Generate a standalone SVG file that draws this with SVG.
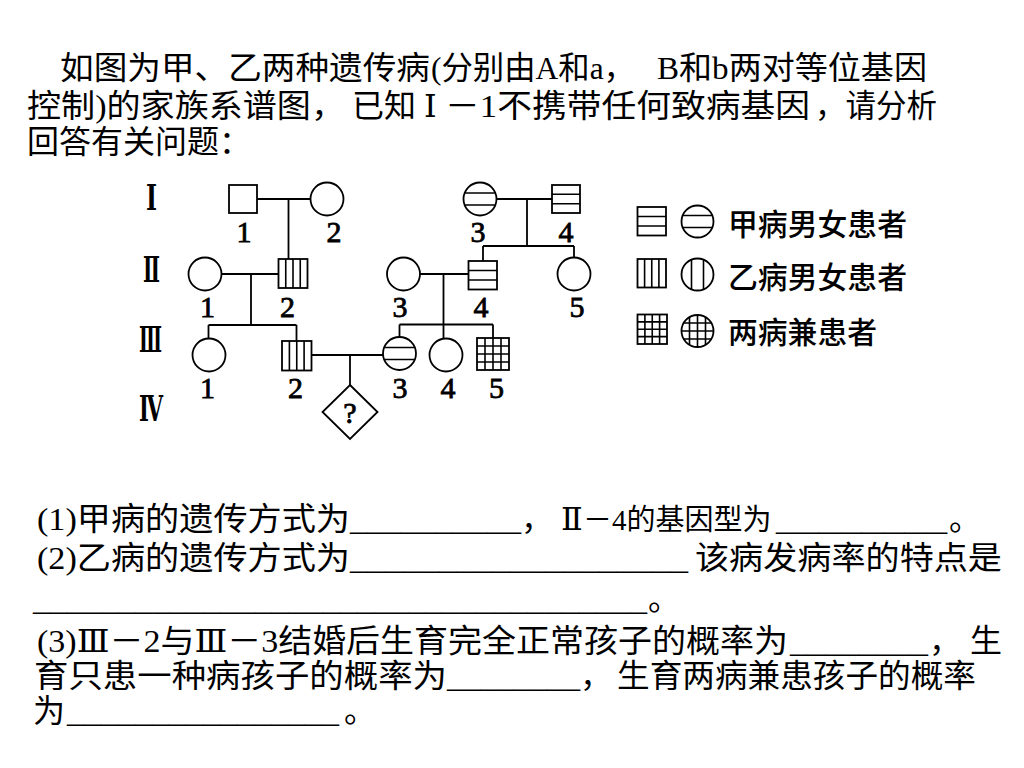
<svg xmlns="http://www.w3.org/2000/svg" width="1024" height="768" viewBox="0 0 1024 768">
<style>
.t{font-family:"Liberation Serif","DejaVu Serif","Noto Sans CJK SC",serif;font-size:32px;fill:#000}
.lg{font-family:"Noto Sans CJK SC","Liberation Sans",sans-serif;font-size:30px;font-weight:500;fill:#000}
.n{font-family:"Liberation Serif","DejaVu Serif",serif;font-size:30px;fill:#000;stroke:#000;stroke-width:0.8;text-anchor:middle}
.g{font-family:"Liberation Serif","DejaVu Serif",serif;font-size:35px;font-weight:bold;fill:#000;text-anchor:middle}
.s{fill:#fff;stroke:#000;stroke-width:1.8}
.p{fill:none;stroke:#000;stroke-width:1.6}
.c{fill:none;stroke:#000;stroke-width:1.8}
</style>
<rect width="1024" height="768" fill="#fff"/>

<g id="intro">
<text class="t" y="79"><tspan x="60" textLength="370" lengthAdjust="spacingAndGlyphs">如图为甲、乙两种遗传病</tspan><tspan x="431" textLength="204" lengthAdjust="spacingAndGlyphs">(分别由A和a，</tspan><tspan x="657" textLength="270" lengthAdjust="spacingAndGlyphs">B和b两对等位基因</tspan></text>
<text class="t" y="117"><tspan x="27" textLength="318" lengthAdjust="spacingAndGlyphs">控制)的家族系谱图，</tspan><tspan x="352">已知</tspan><tspan x="424">Ⅰ</tspan><tspan x="445" textLength="365" lengthAdjust="spacingAndGlyphs">－1不携带任何致病基因</tspan><tspan x="815" textLength="122" lengthAdjust="spacingAndGlyphs">，请分析</tspan></text>
<text class="t" x="27" y="153">回答有关问题：</text>
</g>

<g id="generation-labels">
<text class="g" x="151.5" y="210" textLength="11" lengthAdjust="spacingAndGlyphs">Ⅰ</text>
<text class="g" x="151.5" y="282" textLength="17" lengthAdjust="spacingAndGlyphs">Ⅱ</text>
<text class="g" x="150.5" y="352" textLength="23" lengthAdjust="spacingAndGlyphs">Ⅲ</text>
<text class="g" x="151" y="421" textLength="24" lengthAdjust="spacingAndGlyphs">Ⅳ</text>
</g>

<g id="connectors">
<path class="c" d="M257 199H310.5M288.5 199V259"/>
<path class="c" d="M496.5 199H552M527 199V246M483 246H574M483 246V261M574 246V257.5"/>
<path class="c" d="M221.5 274H278.5M251 274V325M208.5 325H296.5M208.5 325V338.5M296.5 325V341"/>
<path class="c" d="M420 274H468.5M443.5 274V324.5M399.5 324.5H493M399.5 324.5V337M443.5 324.5V338.5M493 324.5V338"/>
<path class="c" d="M311.5 355H383M350 355V385"/>
</g>

<g id="I-1"><rect class="s" x="229" y="185" width="28" height="28"/><text class="n" x="244" y="242">1</text></g>
<g id="I-2"><circle class="s" cx="327" cy="199" r="16.5"/><text class="n" x="334" y="242">2</text></g>
<g id="I-3"><circle class="s" cx="480" cy="199" r="16.5"/><path class="p" d="M464.6 193H495.4M464.6 205H495.4"/><text class="n" x="478" y="242">3</text></g>
<g id="I-4"><rect class="s" x="552" y="185" width="28" height="28"/><path class="p" d="M552 194.3H580M552 203.7H580"/><text class="n" x="566" y="242">4</text></g>

<g id="II-1"><circle class="s" cx="205" cy="274" r="16.5"/><text class="n" x="207.5" y="317">1</text></g>
<g id="II-2"><rect class="s" x="278.5" y="259" width="29" height="29"/><path class="p" d="M285.75 259V288M293 259V288M300.25 259V288"/><text class="n" x="287.5" y="317">2</text></g>
<g id="II-3"><circle class="s" cx="403.5" cy="274" r="16.5"/><text class="n" x="400" y="317">3</text></g>
<g id="II-4"><rect class="s" x="468.5" y="261" width="28.5" height="28.5"/><path class="p" d="M468.5 270.5H497M468.5 280H497"/><text class="n" x="481" y="317">4</text></g>
<g id="II-5"><circle class="s" cx="574" cy="274" r="16.5"/><text class="n" x="577" y="317">5</text></g>

<g id="III-1"><circle class="s" cx="209" cy="355" r="16.5"/><text class="n" x="207.5" y="398">1</text></g>
<g id="III-2"><rect class="s" x="282" y="341" width="29.5" height="29.5"/><path class="p" d="M289.4 341V370.5M296.75 341V370.5M304.1 341V370.5"/><text class="n" x="295.5" y="398">2</text></g>
<g id="III-3"><circle class="s" cx="399.5" cy="353.5" r="16.5"/><path class="p" d="M384.1 347.5H414.9M384.1 359.5H414.9"/><text class="n" x="400" y="398">3</text></g>
<g id="III-4"><circle class="s" cx="446" cy="355" r="16.5"/><text class="n" x="448" y="398">4</text></g>
<g id="III-5"><rect class="s" x="477" y="338" width="32" height="32"/><path class="p" d="M485 338V370M493 338V370M501 338V370M477 346H509M477 354H509M477 362H509"/><text class="n" x="496.5" y="398">5</text></g>

<g id="IV-1"><path class="s" d="M350 385L377.5 412L350 439L322.5 412Z"/><text class="n" x="350" y="423">?</text></g>

<g id="legend">
<g id="legend-a"><rect class="s" x="637.5" y="207" width="28.5" height="28.5"/><path class="p" d="M637.5 216.5H666M637.5 226H666"/><circle class="s" cx="697.5" cy="221.5" r="16"/><path class="p" d="M682.7 215.5H712.3M682.7 227.5H712.3"/><text class="lg" x="728" y="235" textLength="179" lengthAdjust="spacingAndGlyphs">甲病男女患者</text></g>
<g id="legend-b"><rect class="s" x="637.5" y="259" width="28.5" height="28.5"/><path class="p" d="M644.6 259V287.5M651.75 259V287.5M658.9 259V287.5"/><circle class="s" cx="697.5" cy="274.5" r="16"/><path class="p" d="M691.5 259.7V289.3M703.5 259.7V289.3"/><text class="lg" x="728" y="288" textLength="179" lengthAdjust="spacingAndGlyphs">乙病男女患者</text></g>
<g id="legend-c"><rect class="s" x="637.5" y="314.5" width="29.5" height="29.5"/><path class="p" d="M644.9 314.5V344M652.25 314.5V344M659.6 314.5V344M637.5 321.9H667M637.5 329.25H667M637.5 336.6H667"/><circle class="s" cx="697.5" cy="331" r="16"/><path class="p" d="M689.5 317.1V344.9M697.5 315V347M705.5 317.1V344.9M683.6 323H711.4M681.5 331H713.5M683.6 339H711.4"/><text class="lg" x="728" y="343" textLength="149" lengthAdjust="spacingAndGlyphs">两病兼患者</text></g>
</g>

<g id="questions">
<text class="t" y="530"><tspan x="37" textLength="313" lengthAdjust="spacingAndGlyphs">(1)甲病的遗传方式为</tspan><tspan x="350" textLength="171" lengthAdjust="spacingAndGlyphs">__________</tspan><tspan x="521">，</tspan><tspan x="561">Ⅱ</tspan><tspan x="583" font-size="29">－4的基因型为</tspan><tspan x="776" textLength="171" lengthAdjust="spacingAndGlyphs">________</tspan><tspan x="949">。</tspan></text>
<text class="t" y="569"><tspan x="37" textLength="313" lengthAdjust="spacingAndGlyphs">(2)乙病的遗传方式为</tspan><tspan x="350" textLength="338" lengthAdjust="spacingAndGlyphs">___________________</tspan><tspan x="695" textLength="307" lengthAdjust="spacingAndGlyphs">该病发病率的特点是</tspan></text>
<text class="t" y="610"><tspan x="33" textLength="614" lengthAdjust="spacingAndGlyphs">____________________________________</tspan><tspan x="648">。</tspan></text>
<text class="t" y="652"><tspan x="37" textLength="751" lengthAdjust="spacingAndGlyphs">(3)Ⅲ－2与Ⅲ－3结婚后生育完全正常孩子的概率为</tspan><tspan x="790" textLength="138" lengthAdjust="spacingAndGlyphs">________</tspan><tspan x="929">，</tspan><tspan x="970">生</tspan></text>
<text class="t" y="687"><tspan x="34" textLength="413" lengthAdjust="spacingAndGlyphs">育只患一种病孩子的概率为</tspan><tspan x="447" textLength="133" lengthAdjust="spacingAndGlyphs">________</tspan><tspan x="580">，</tspan><tspan x="617" textLength="359" lengthAdjust="spacingAndGlyphs">生育两病兼患孩子的概率</tspan></text>
<text class="t" y="722"><tspan x="33">为</tspan><tspan x="67" textLength="272" lengthAdjust="spacingAndGlyphs">________________</tspan><tspan x="344">。</tspan></text>
</g>
</svg>
